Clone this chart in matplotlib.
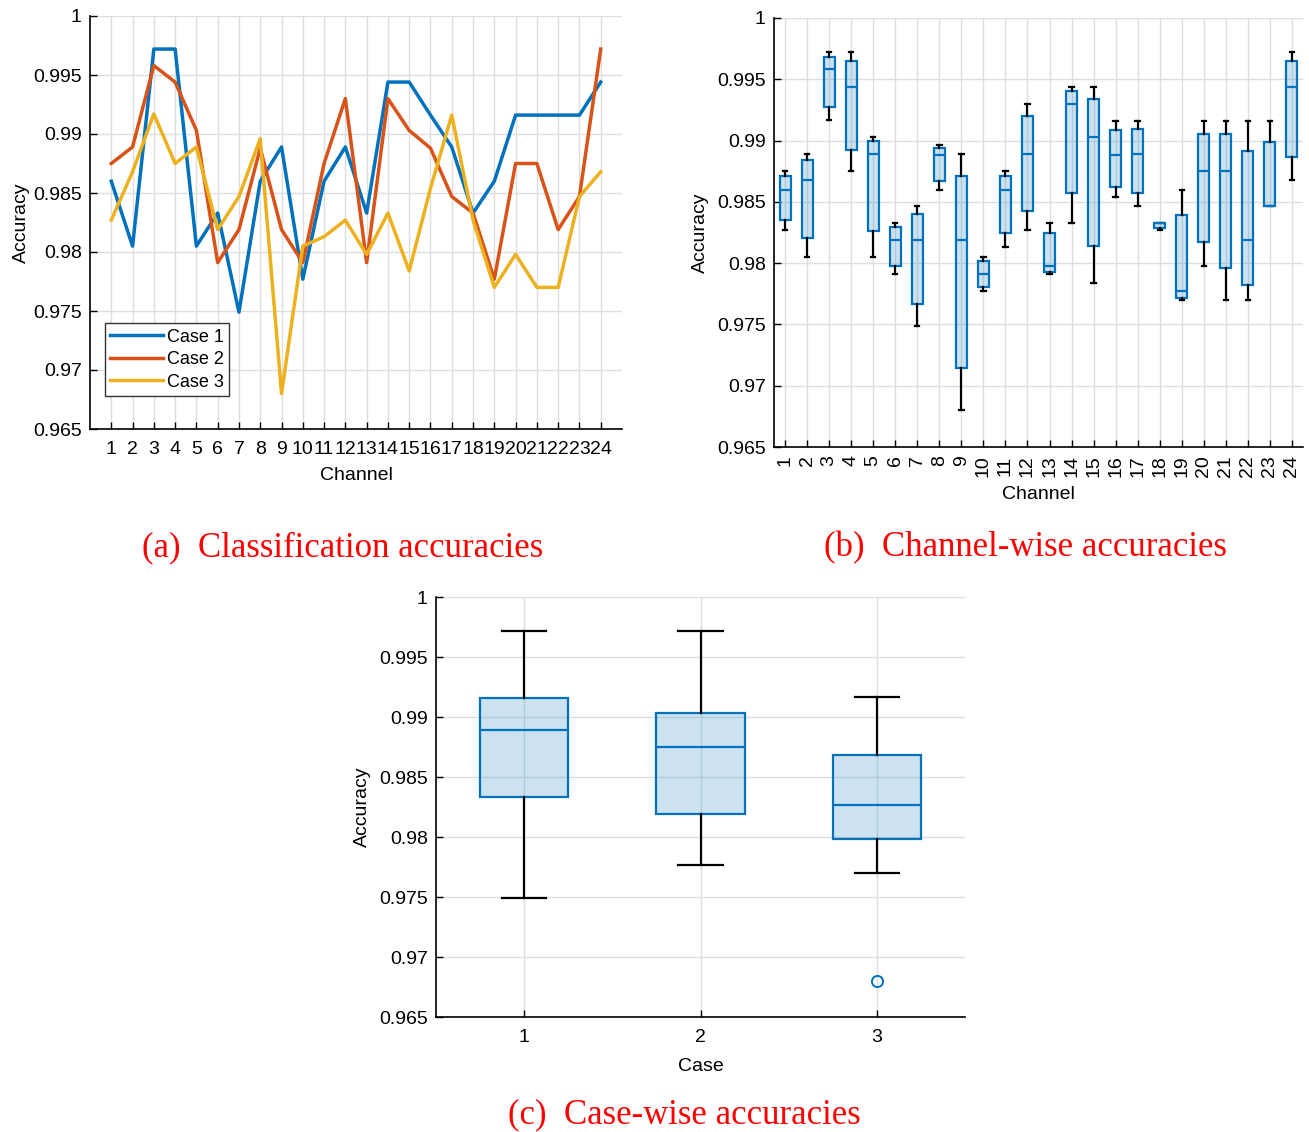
import numpy as np
import matplotlib
matplotlib.use("Agg")
import matplotlib.pyplot as plt

# ---------------- data ----------------
channels = list(range(1, 25))
case1 = [0.9860, 0.9805, 0.9972, 0.9972, 0.9805, 0.9833, 0.9749, 0.9860, 0.9889, 0.9777,
         0.9860, 0.9889, 0.9833, 0.9944, 0.9944, 0.9916, 0.9889, 0.9833, 0.9860, 0.9916,
         0.9916, 0.9916, 0.9916, 0.9944]
case2 = [0.9875, 0.9889, 0.9958, 0.9944, 0.9903, 0.9791, 0.9819, 0.9888, 0.9819, 0.9791,
         0.9875, 0.9930, 0.9791, 0.9930, 0.9903, 0.9888, 0.9847, 0.9833, 0.9777, 0.9875,
         0.9875, 0.9819, 0.9847, 0.9972]
case3 = [0.9827, 0.9868, 0.9917, 0.9875, 0.9889, 0.9819, 0.9847, 0.9896, 0.9680, 0.9805,
         0.9813, 0.9827, 0.9798, 0.9833, 0.9784, 0.9854, 0.9916, 0.9827, 0.9770, 0.9798,
         0.9770, 0.9770, 0.9847, 0.9868]
case_names = ["Case 1", "Case 2", "Case 3"]
case_ticks = ["1", "2", "3"]
yticks = [0.965, 0.97, 0.975, 0.98, 0.985, 0.99, 0.995, 1.0]

# ---------------- style ----------------
plt.rcParams['font.family'] = ['Liberation Sans', 'DejaVu Sans']
W, H = 1309, 1132
fig = plt.figure(figsize=(W / 100, H / 100), dpi=100)

C_BLUE = '#0072BD'
C_ORANGE = '#D95319'
C_YELLOW = '#EDB120'
GRID = '#dedede'
FS = 14


def add_ax(left, right, top, bottom):
    return fig.add_axes([left / W, 1 - bottom / H, (right - left) / W, (bottom - top) / H])


def style(ax):
    ax.spines['top'].set_visible(False)
    ax.spines['right'].set_visible(False)
    ax.spines['left'].set_linewidth(1.2)
    ax.spines['bottom'].set_linewidth(1.2)
    ax.tick_params(direction='in', length=5, width=1, labelsize=FS, colors='black')
    ax.tick_params(axis='x', pad=9)
    ax.tick_params(axis='y', pad=6)
    ax.grid(True, color=GRID, linewidth=1.0)
    ax.set_axisbelow(True)
    ax.set_ylim(0.965, 1.0)
    ax.set_yticks(yticks)
    ax.set_yticklabels([f'{v:g}' for v in yticks])


def mstats(data, label):
    d = np.asarray(data)
    q1, med, q3 = np.percentile(d, [25, 50, 75], method='hazen')
    iqr = q3 - q1
    lo_f, hi_f = q1 - 1.5 * iqr, q3 + 1.5 * iqr
    inside = d[(d >= lo_f) & (d <= hi_f)]
    return dict(med=med, q1=q1, q3=q3, whislo=inside.min(), whishi=inside.max(),
                fliers=d[(d < lo_f) | (d > hi_f)], label=label)


# ---------------- (a) lines ----------------
ax = add_ax(90, 622, 16, 429)
style(ax)
for vals, col, name in zip([case1, case2, case3], [C_BLUE, C_ORANGE, C_YELLOW], case_names):
    ax.plot(channels, vals, color=col, lw=2.5, label=name)
ax.set_xlim(0, 25)
ax.set_xticks(channels)
ax.set_xticklabels([str(c) for c in channels])
ax.set_xlabel('Channel', fontsize=FS, labelpad=6)
ax.set_ylabel('Accuracy', fontsize=FS, labelpad=2)
leg = ax.legend(loc='lower left', bbox_to_anchor=(0.028, 0.08), fontsize=13,
                handlelength=2.9, borderaxespad=0, fancybox=False, framealpha=1,
                edgecolor='#333333', borderpad=0.3, labelspacing=0.3, handletextpad=0.25)
leg.get_frame().set_linewidth(1.0)

box_kw = dict(patch_artist=True,
              boxprops=dict(facecolor=(0.0, 0.447, 0.741, 0.2), edgecolor=C_BLUE, linewidth=1.6),
              medianprops=dict(color=C_BLUE, linewidth=1.6),
              whiskerprops=dict(color='black', linewidth=1.6),
              capprops=dict(color='black', linewidth=1.6),
              flierprops=dict(marker='o', markerfacecolor='none', markeredgecolor=C_BLUE,
                              markersize=8, markeredgewidth=1.4))

# ---------------- (b) channel-wise boxplots ----------------
ax = add_ax(774, 1303, 18, 447)
style(ax)
stats_b = [mstats([a, b, c], str(ch)) for ch, a, b, c in zip(channels, case1, case2, case3)]
ax.bxp(stats_b, positions=channels, widths=0.5, capwidths=0.2, **box_kw)
ax.set_xlim(0.5, 24.5)
ax.set_xticks(channels)
ax.set_xticklabels([str(c) for c in channels], rotation=90)
ax.tick_params(axis='x', pad=6)
ax.set_xlabel('Channel', fontsize=FS, labelpad=6)
ax.set_ylabel('Accuracy', fontsize=FS, labelpad=6)

# ---------------- (c) case-wise boxplots ----------------
ax = add_ax(436, 965, 597, 1017)
style(ax)
stats_c = [mstats(v, t) for v, t in zip([case1, case2, case3], case_ticks)]
ax.bxp(stats_c, positions=[1, 2, 3], widths=0.5, capwidths=0.25, **box_kw)
ax.set_xlim(0.5, 3.5)
ax.set_xticks([1, 2, 3])
ax.set_xticklabels(case_ticks)
ax.set_xlabel('Case', fontsize=FS, labelpad=8)
ax.set_ylabel('Accuracy', fontsize=FS, labelpad=6)

# ---------------- captions ----------------
cap_kw = dict(color='red', fontsize=25, family=['Liberation Serif', 'DejaVu Serif'],
              ha='center', va='center')
fig.text(343 / W, 1 - 548 / H, '(a)  Classification accuracies', **cap_kw)
fig.text(1026 / W, 1 - 548 / H, '(b)  Channel-wise accuracies', **cap_kw)
fig.text(684 / W, 1 - 1115 / H, '(c)  Case-wise accuracies', **cap_kw)

fig.savefig('out.png', dpi=100, facecolor='white')
